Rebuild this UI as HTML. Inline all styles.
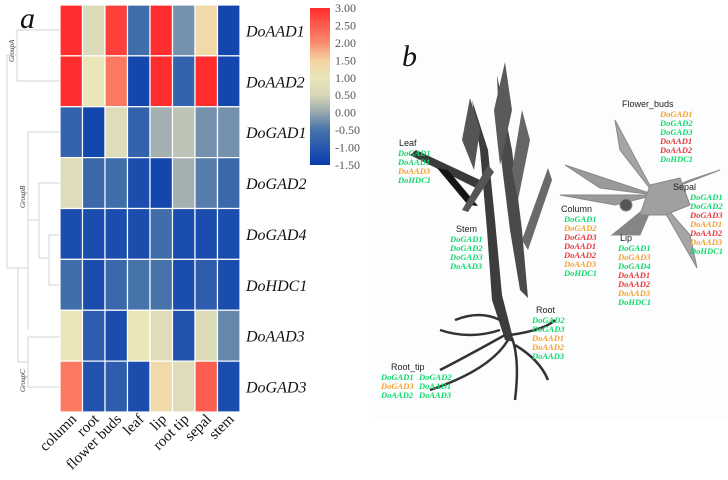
<!DOCTYPE html>
<html><head><meta charset="utf-8"><style>
html,body{margin:0;padding:0;background:#fff;}
svg{display:block;}
.gn{font-family:"Liberation Serif",serif;font-style:italic;font-size:16px;fill:#111;}
.cl{font-family:"Liberation Serif",serif;font-size:15px;fill:#111;}
.tk{font-family:"Liberation Serif",serif;font-size:12px;fill:#555;}
.lb{font-family:"Liberation Sans",sans-serif;font-size:9px;fill:#222;}
.g{font-family:"Liberation Serif",serif;font-style:italic;font-weight:bold;font-size:8.5px;}
</style></head><body>
<svg id="fig" width="728" height="480" viewBox="0 0 728 480">
<rect x="370" y="40" width="358" height="380" fill="#fcfdfe"/>
<text x="20" y="28" font-family="Liberation Serif,serif" font-style="italic" font-size="30" fill="#111">a</text>
<text x="402" y="66" font-family="Liberation Serif,serif" font-style="italic" font-size="30" fill="#111">b</text>
<g id="dendro" stroke="#cfd3d8" stroke-width="1" fill="none">
<path d="M60 30H17V81H60"/><path d="M17 55H7V268"/>
<path d="M60 132H28V220"/><path d="M28 176V330"/>
<path d="M60 183H39V258"/><path d="M39 220H28"/>
<path d="M60 235H49V285H60"/><path d="M49 258H39"/>
<path d="M60 337H28V387H60"/><path d="M28 362H18V268"/><path d="M7 268H28"/>
</g>
<text transform="translate(14,62) rotate(-90)" font-family="Liberation Serif,serif" font-style="italic" font-size="7" fill="#333">GroupA</text>
<text transform="translate(25,208) rotate(-90)" font-family="Liberation Serif,serif" font-style="italic" font-size="7" fill="#333">GroupB</text>
<text transform="translate(25,392) rotate(-90)" font-family="Liberation Serif,serif" font-style="italic" font-size="7" fill="#333">GroupC</text>
<g id="heat"></g>
<g id="cbar"></g>
<g id="plant">
<g stroke="none">
<path d="M472 100 L480 150 L487 230 L492 300 L505 340 L514 342 L502 295 L495 220 L488 150 Z" fill="#3c3c3c"/>
<path d="M497 75 L500 150 L510 230 L520 290 L528 298 L522 230 L512 150 Z" fill="#4a4a4a"/>
<path d="M470 98 L462 140 L474 170 L480 130 Z" fill="#555"/>
<path d="M505 62 L494 110 L500 165 L512 110 Z" fill="#5a5a5a"/>
<path d="M410 155 L476 188 L480 180 L416 150 Z" fill="#3a3a3a"/>
<path d="M437 168 L468 205 L478 206 L448 170 Z" fill="#151515"/>
<path d="M488 165 L462 210 L468 212 L494 172 Z" fill="#555"/>
<path d="M522 110 L512 170 L518 200 L530 140 Z" fill="#666"/>
<path d="M548 168 L522 240 L528 250 L552 180 Z" fill="#6a6a6a"/>
</g>
<g stroke="#333" stroke-width="2.5" fill="none">
<path d="M500 330 Q470 340 440 330"/><path d="M505 335 Q460 360 440 370"/>
<path d="M508 340 Q490 370 430 390"/><path d="M512 338 Q520 360 515 400"/>
<path d="M510 335 Q545 330 555 320"/><path d="M515 345 Q540 360 548 380"/>
<path d="M500 320 Q480 310 455 320"/>
</g>
<g fill="#9a9a9a" stroke="#888" stroke-width="1">
<path d="M655 195 L565 165 L600 188 Z"/>
<path d="M655 195 L560 195 L615 205 Z"/>
<path d="M655 195 L615 120 L620 150 Z" fill="#a5a5a5"/>
<path d="M655 195 L720 170 L690 180 Z"/>
<path d="M655 195 L697 268 L690 235 Z" fill="#a5a5a5"/>
<path d="M655 200 L612 235 L640 235 Z" fill="#858585"/>
<path d="M650 185 L680 178 L690 205 L665 215 L640 215 Z" fill="#a0a0a0"/>
<circle cx="626" cy="205" r="6" fill="#555"/>
</g>
</g>
<g id="labels"></g>
</svg>
<script>
const genes=["DoAAD1","DoAAD2","DoGAD1","DoGAD2","DoGAD4","DoHDC1","DoAAD3","DoGAD3"];
const tissues=["column","root","flower buds","leaf","lip","root tip","sepal","stem"];
const rowAAD1=[3.0,0.6,2.8,-0.6,3.0,-0.2,1.3,-1.3];
const rowAAD2=[3.0,1.0,2.2,-1.3,3.0,-0.8,3.0,-1.3];
const rowGAD1=[-0.8,-1.3,0.7,-0.8,0.1,0.3,-0.2,-0.2];
const rowGAD2=[0.7,-0.7,-0.6,-1.2,-1.3,0.1,-0.4,-0.7];
const rowGAD4=[-1.2,-1.2,-1.2,-1.2,-0.6,-1.2,-1.2,-1.2];
const rowHDC1=[-0.6,-1.2,-0.7,-0.5,-0.5,-1.2,-0.9,-1.2];
const rowAAD3=[1.0,-0.9,-1.2,1.0,0.7,-1.1,0.6,-0.3];
const rowGAD3=[2.2,-1.1,-0.9,-1.2,1.3,0.7,2.5,-1.2];
const tickLabels=["3.00","2.50","2.00","1.50","1.00","0.50","0.00","-0.50","-1.00","-1.50"];
const rows=[rowAAD1,rowAAD2,rowGAD1,rowGAD2,rowGAD4,rowHDC1,rowAAD3,rowGAD3];
const NS="http://www.w3.org/2000/svg";
const X0=60,X1=240,Y0=5,Y1=412,VMIN=-1.5,VMAX=3;
const cw=(X1-X0)/tissues.length,ch=(Y1-Y0)/genes.length;
const xPos=i=>X0+i*cw, yPos=j=>Y0+j*ch;
const stops=[[-1.5,[8,60,175]],[-0.5,[70,115,170]],[0,[150,165,175]],[0.5,[215,215,185]],[1.0,[235,230,185]],[1.5,[245,210,160]],[2.0,[250,140,110]],[3.0,[255,45,45]]];
function color(v){v=Math.max(VMIN,Math.min(VMAX,v));for(let k=0;k<stops.length-1;k++){const a=stops[k],b=stops[k+1];if(v<=b[0]){const t=(v-a[0])/(b[0]-a[0]);return "rgb("+a[1].map((c,i)=>Math.round(c+(b[1][i]-c)*t)).join(",")+")";}}return "rgb(255,45,45)";}
function mk(tag,at,parent,txt){const e=document.createElementNS(NS,tag);for(const k in at)e.setAttribute(k,at[k]);if(txt!==undefined)e.textContent=txt;parent.appendChild(e);return e;}
const heat=document.getElementById("heat");
rows.forEach((r,j)=>{r.forEach((v,i)=>{
 const c=mk("rect",{x:xPos(i),y:yPos(j),width:cw,height:ch,fill:color(v),stroke:"#fff","stroke-width":1.2},heat);
 
 
});
 const t=mk("text",{x:246,y:yPos(j)+ch/2+6,class:"gn"},heat,genes[j]);
 
 
});
tissues.forEach((s,i)=>{
 const t=mk("text",{x:0,y:0,class:"cl","text-anchor":"end",transform:"translate("+(xPos(i)+cw/2+6)+",420) rotate(-45)"},heat,s);
 
 
});
const cb=document.getElementById("cbar");
const CY0=8,CY1=165;
const gr=mk("defs",{},cb);const lg=mk("linearGradient",{id:"cg",x1:0,y1:0,x2:0,y2:1},gr);
stops.slice().reverse().forEach(s=>mk("stop",{offset:((VMAX-s[0])/(VMAX-VMIN)),"stop-color":color(s[0])},lg));
const cr=mk("rect",{x:310,y:CY0,width:20,height:CY1-CY0,fill:"url(#cg)"},cb);


tickLabels.forEach((l,k)=>{
 const t=mk("text",{x:335,y:CY0+k*(CY1-CY0)/(tickLabels.length-1)+4,class:"tk"},cb,l);
 
 
});
const G="#11d96a",O="#f5a030",R="#e83838";
const groups=[
 ["Flower_buds",622,107,[[660,[["DoGAD1",O],["DoGAD2",G],["DoGAD3",G],["DoAAD1",R],["DoAAD2",R],["DoHDC1",G]]]]],
 ["Leaf",399,146,[[398,[["DoGAD1",G],["DoAAD1",G],["DoAAD3",O],["DoHDC1",G]]]]],
 ["Stem",456,232,[[450,[["DoGAD1",G],["DoGAD2",G],["DoGAD3",G],["DoAAD3",G]]]]],
 ["Column",561,212,[[564,[["DoGAD1",G],["DoGAD2",O],["DoGAD3",R],["DoAAD1",R],["DoAAD2",R],["DoAAD3",O],["DoHDC1",G]]]]],
 ["Lip",620,241,[[618,[["DoGAD1",G],["DoGAD3",O],["DoGAD4",G],["DoAAD1",R],["DoAAD2",R],["DoAAD3",O],["DoHDC1",G]]]]],
 ["Sepal",673,190,[[690,[["DoGAD1",G],["DoGAD2",G],["DoGAD3",R],["DoAAD1",O],["DoAAD2",R],["DoAAD3",O],["DoHDC1",G]]]]],
 ["Root",536,313,[[532,[["DoGAD2",G],["DoGAD3",G],["DoAAD1",O],["DoAAD2",O],["DoAAD3",G]]]]],
 ["Root_tip",391,370,[[381,[["DoGAD1",G],["DoGAD3",O],["DoAAD2",G]]],[419,[["DoGAD2",G],["DoAAD1",G],["DoAAD3",G]]]]]
];
const L=document.getElementById("labels");
groups.forEach(g=>{
 const t=mk("text",{x:g[1],y:g[2],class:"lb"},L,g[0]);
 
 
 g[3].forEach(col=>col[1].forEach((e,k)=>{
  const u=mk("text",{x:col[0],y:g[2]+10+k*9,class:"g",fill:e[1]},L,e[0]);
  
  
 }));
});
</script>
</body></html>
